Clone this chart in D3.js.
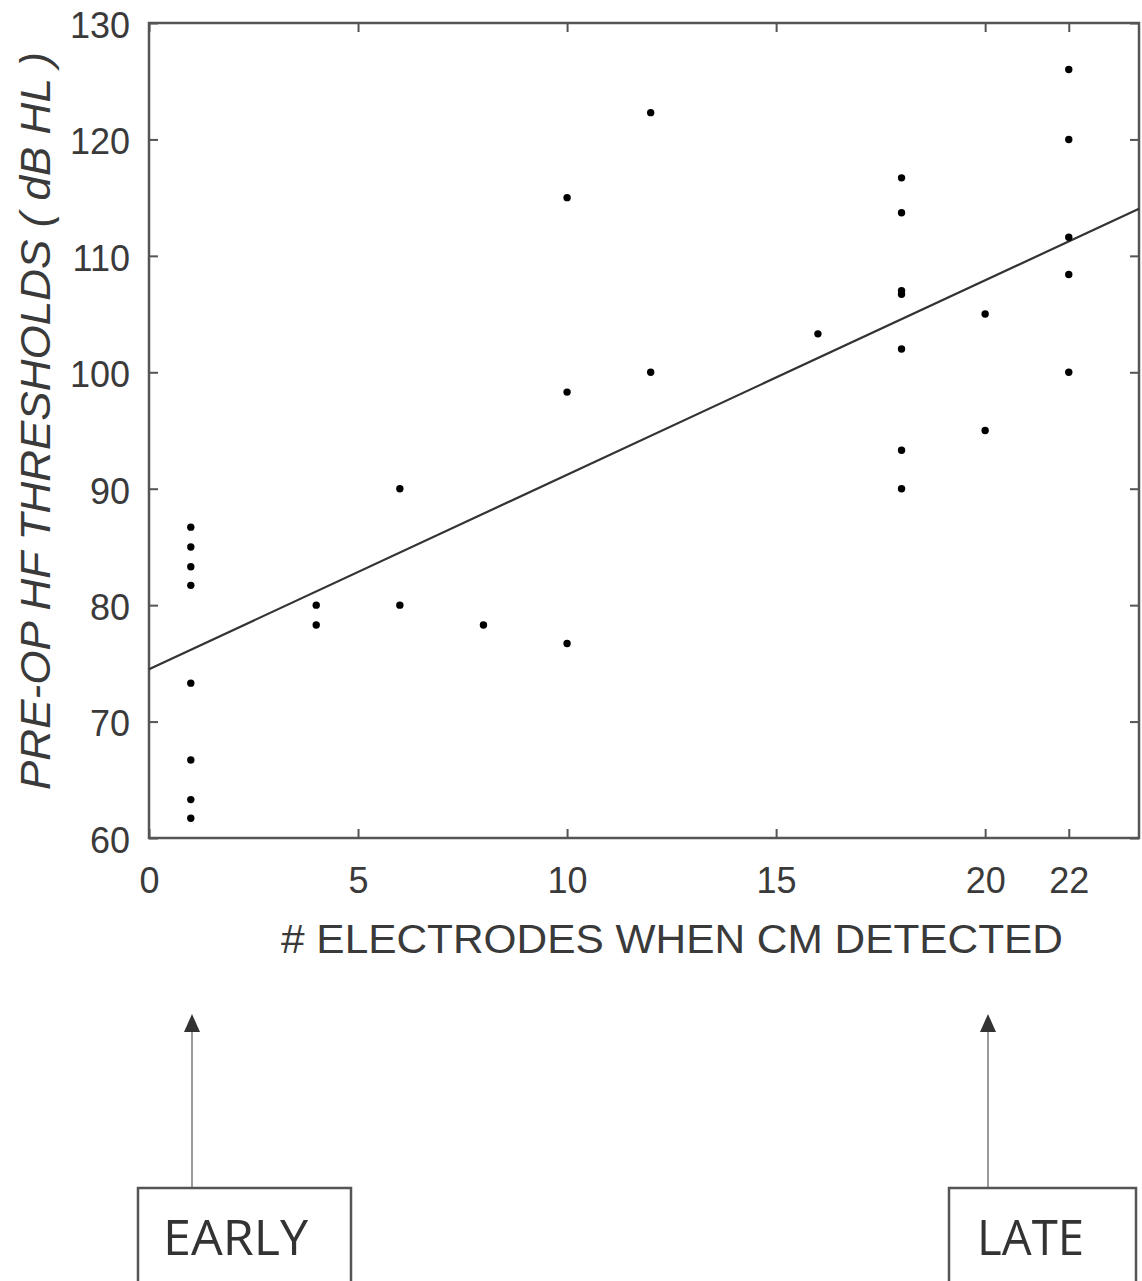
<!DOCTYPE html>
<html>
<head>
<meta charset="utf-8">
<script src="https://cdn.jsdelivr.net/npm/d3@7"></script>
<style>
  html, body { margin: 0; padding: 0; background: #fff; }
  svg { display: block; }
</style>
</head>
<body>
<svg id="chart" width="1142" height="1281"></svg>
<script>
// ---- data ----
const electrodes = [1,1,1,1,1,1,1,1, 4,4, 6,6, 8, 10,10,10, 12,12, 16, 18,18,18,18,18,18,18, 20,20, 22,22,22,22,22];
const thresholds = [86.7,85,83.3,81.7,73.3,66.7,63.3,61.7, 80,78.3, 90,80, 78.3, 115,98.3,76.7, 122.3,100, 103.3, 116.7,113.7,107,106.7,102,93.3,90, 105,95, 126,120,111.6,108.4,100];
const xTicks = [0, 5, 10, 15, 20, 22];
const yTicks = [60, 70, 80, 90, 100, 110, 120, 130];
const fitIntercept = 74.5;
const fitSlope = 1.67;
const xLabel = "# ELECTRODES WHEN CM DETECTED";
const yLabel = "PRE-OP HF THRESHOLDS  ( dB HL )";
const annotations = ["EARLY", "LATE"];

// ---- layout ----
const svg = d3.select("#chart");
const plot = { left: 149, top: 23, right: 1139, bottom: 838 };
const xMax = 23.68;
const x = d3.scaleLinear().domain([0, xMax]).range([plot.left, plot.right]);
const y = d3.scaleLinear().domain([60, 130]).range([plot.bottom, plot.top]);

const axisColor = "#555";
const textColor = "#3a3a3a";
const tickFont = "Liberation Sans, Arial, sans-serif";

// frame
svg.append("rect")
  .attr("x", plot.left).attr("y", plot.top)
  .attr("width", plot.right - plot.left).attr("height", plot.bottom - plot.top)
  .attr("fill", "none").attr("stroke", axisColor).attr("stroke-width", 2.5);

// axes via d3
const xAxis = d3.axisBottom(x).tickValues(xTicks).tickSize(-9).tickPadding(29).tickFormat(d3.format("d"));
const gx = svg.append("g").attr("transform", `translate(0,${plot.bottom})`).call(xAxis);
const xAxisTop = d3.axisTop(x).tickValues(xTicks).tickSize(-9).tickFormat("");
const gxt = svg.append("g").attr("transform", `translate(0,${plot.top})`).call(xAxisTop);
const yAxis = d3.axisLeft(y).tickValues(yTicks).tickSize(-9).tickPadding(19).tickFormat(d3.format("d"));
const gy = svg.append("g").attr("transform", `translate(${plot.left},0)`).call(yAxis);
const yAxisRight = d3.axisRight(y).tickValues(yTicks).tickSize(-9).tickFormat("");
const gyr = svg.append("g").attr("transform", `translate(${plot.right},0)`).call(yAxisRight);

[gx, gxt, gy, gyr].forEach(g => {
  g.select(".domain").remove();
  g.selectAll(".tick line").attr("stroke", axisColor).attr("stroke-width", 2);
  g.selectAll(".tick text")
    .attr("fill", textColor)
    .style("font-family", tickFont)
    .style("font-size", "36px");
});
gy.selectAll(".tick text").attr("dy", "0.40em");

// fit line
svg.append("line")
  .attr("x1", x(0)).attr("y1", y(fitIntercept))
  .attr("x2", x(xMax)).attr("y2", y(fitIntercept + fitSlope * xMax))
  .attr("stroke", "#333").attr("stroke-width", 2.2);

// points
svg.append("g").selectAll("circle")
  .data(electrodes.map((e, i) => ({ e, t: thresholds[i] })))
  .join("circle")
  .attr("cx", d => x(d.e)).attr("cy", d => y(d.t))
  .attr("r", 3.7).attr("fill", "#000");

// axis labels
svg.append("text")
  .attr("x", (281 + 1063) / 2).attr("y", 953)
  .attr("text-anchor", "middle")
  .attr("fill", textColor)
  .style("font-family", tickFont).style("font-size", "41px")
  .attr("textLength", 782).attr("lengthAdjust", "spacingAndGlyphs")
  .text(xLabel);

svg.append("text")
  .attr("transform", `translate(50,${(52 + 790) / 2}) rotate(-90)`)
  .attr("text-anchor", "middle")
  .attr("fill", textColor)
  .style("font-family", tickFont).style("font-size", "42px").style("font-style", "italic")
  .attr("textLength", 738).attr("lengthAdjust", "spacingAndGlyphs")
  .text(yLabel);

// annotations: arrows + boxes
const boxes = [
  { left: 138, right: 351, textLeft: 163, textRight: 308, arrowX: 192 },
  { left: 949, right: 1136, textLeft: 977, textRight: 1084, arrowX: 988 }
];
annotations.forEach((label, i) => {
  const b = boxes[i];
  const ax = b.arrowX;
  svg.append("line")
    .attr("x1", ax).attr("y1", 1188).attr("x2", ax).attr("y2", 1030)
    .attr("stroke", "#9a9a9a").attr("stroke-width", 2);
  svg.append("path")
    .attr("d", `M${ax},1014 L${ax - 8},1032 L${ax + 8},1032 Z`)
    .attr("fill", "#333");
  svg.append("rect")
    .attr("x", b.left).attr("y", 1188)
    .attr("width", b.right - b.left).attr("height", 120)
    .attr("fill", "#fff").attr("stroke", "#555").attr("stroke-width", 2.5);
  svg.append("text")
    .attr("x", b.textLeft).attr("y", 1255)
    .attr("fill", "#333")
    .style("font-family", "Open Sans, sans-serif").style("font-size", "50px")
    .attr("textLength", b.textRight - b.textLeft).attr("lengthAdjust", "spacingAndGlyphs")
    .text(label);
});
</script>
</body>
</html>
